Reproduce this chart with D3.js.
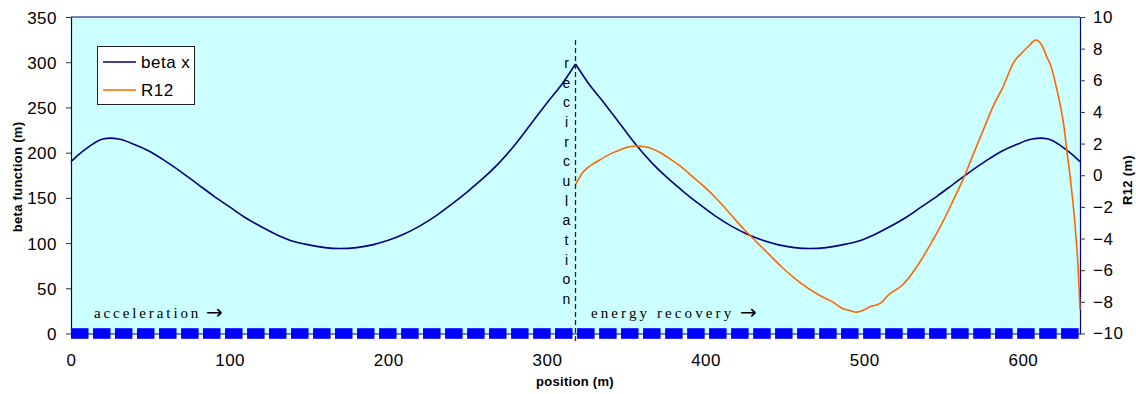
<!DOCTYPE html>
<html>
<head>
<meta charset="utf-8">
<script src="https://cdn.jsdelivr.net/npm/d3@7"></script>
<style>
  body { margin: 0; background: #fff; }
  svg text { font-family: "Liberation Sans", Arial, sans-serif; fill: #000; }
  .tick text { font-size: 17px; letter-spacing: 0.5px; }
  .axisTitle { font-size: 13px; font-weight: bold; letter-spacing: 0.3px; }
  .note { font-family: "Liberation Serif", "Times New Roman", serif; font-size: 15px; }
  .arrow { font-family: "DejaVu Sans", sans-serif; font-size: 20px; }
</style>
</head>
<body>
<div id="chart"></div>
<script>

// beta x (m) along the machine, left axis
const betaPos = [0, 5, 10, 15, 20, 25, 30, 40, 50, 60, 70, 80, 90, 100, 110, 120, 130, 140, 150,
    160, 170, 180, 190, 200, 210, 220, 230, 240, 250, 260, 270, 280, 290, 300, 310, 318,
    326, 336, 346, 356, 366, 376, 386, 396, 406, 416, 426, 436, 446, 456, 466, 476, 486,
    496, 506, 516, 526, 536, 546, 556, 566, 576, 586, 596, 606, 611, 616, 621, 626, 631, 636];
const betaX = [190, 198, 205, 211, 215, 216, 215, 209, 201, 190, 178, 165, 152, 140, 128, 118, 109, 102, 98,
    95, 94, 95, 98, 103, 110, 119, 130, 143, 157, 172, 189, 209, 232, 255, 277, 298,
    277, 255, 232, 209, 189, 172, 157, 143, 130, 119, 110, 103, 98, 95, 94, 95, 98,
    102, 109, 118, 128, 140, 152, 165, 178, 190, 201, 209, 215, 216, 215, 211, 205, 198, 190];

// R12 (m) after recirculation, right axis
const r12Pos = [318, 322, 326, 333, 340, 346, 352, 358, 364, 371, 378, 385, 392, 400, 408, 416, 424,
    432, 440, 448, 456, 464, 472, 480, 486, 491, 495, 500, 504, 510, 516, 524, 533, 541, 550,
    556, 563, 569, 575, 581, 588, 594, 600, 604, 608, 612, 615, 618, 621, 624, 626, 628, 630,
    633, 635, 636];
const r12 = [-0.6, 0.1, 0.5, 0.95, 1.35, 1.6, 1.8, 1.85, 1.75, 1.45, 1.0, 0.5, -0.1, -0.8, -1.6, -2.5, -3.4,
    -4.2, -5.0, -5.8, -6.5, -7.1, -7.6, -8.0, -8.4, -8.55, -8.65, -8.5, -8.3, -8.1, -7.5, -6.95, -5.8, -4.5, -2.85,
    -1.6, -0.1, 1.4, 2.85, 4.3, 5.7, 7.1, 7.8, 8.2, 8.55, 8.2, 7.5, 6.8, 5.6, 4.2, 3.0, 1.3, -0.3,
    -3.3, -6.2, -8.5];

// magnet markers sitting on the axis
const magnetPos = [5.5, 19.4, 33.2, 47.1, 61.0, 74.9, 88.7, 102.6, 116.5, 130.3, 144.2, 158.1, 171.9,
    185.8, 199.7, 213.6, 227.4, 241.3, 255.2, 269.0, 282.9, 296.8, 310.6, 324.5, 338.4, 352.2,
    366.1, 380.0, 393.9, 407.7, 421.6, 435.5, 449.3, 463.2, 477.1, 490.9, 504.8, 518.7, 532.6,
    546.4, 560.3, 574.2, 588.0, 601.9, 615.8, 629.6];

const recircPos = 318;
const xTicks = [0, 100, 200, 300, 400, 500, 600];
const yLeftTicks = [0, 50, 100, 150, 200, 250, 300, 350];
const yRightTicks = [-10, -8, -6, -4, -2, 0, 2, 4, 6, 8, 10];
const seriesNames = ["beta x", "R12"];
const seriesColors = ["#000080", "#ff6600"];

/***** SETUP *****/
const width = 1136;
const height = 394;
const margin = {top: 17, left: 71, right: 56, bottom: 60.5};
const plotWidth = width - margin.left - margin.right;
const plotHeight = height - margin.top - margin.bottom;

const svg = d3.select("#chart")
    .append("svg")
    .attr("width", width)
    .attr("height", height);

const xScale = d3.scaleLinear().domain([0, 636]).range([margin.left, margin.left + plotWidth]);
const yLeft = d3.scaleLinear().domain([0, 350]).range([margin.top + plotHeight, margin.top]);
const yRight = d3.scaleLinear().domain([-10, 10]).range([margin.top + plotHeight, margin.top]);

// plot background
svg.append("rect")
    .attr("x", margin.left)
    .attr("y", margin.top)
    .attr("width", plotWidth)
    .attr("height", plotHeight)
    .attr("fill", "#ccffff");

svg.append("line")
    .attr("x1", margin.left).attr("x2", margin.left + plotWidth)
    .attr("y1", margin.top).attr("y2", margin.top)
    .attr("stroke", "#000080");

/***** AXES *****/
const styleAxis = g => {
    g.select(".domain").attr("stroke", "#000080").attr("stroke-width", 1.2);
    g.selectAll(".tick line").attr("stroke", "#333");
    g.selectAll(".tick text").attr("fill", "#000");
};

svg.append("g")
    .attr("transform", `translate(${margin.left},0)`)
    .call(d3.axisLeft(yLeft).tickValues(yLeftTicks).tickSize(5).tickPadding(9).tickSizeOuter(0))
    .call(styleAxis)
    .selectAll(".tick text").attr("dy", "0.36em");

svg.append("g")
    .attr("transform", `translate(${margin.left + plotWidth},0)`)
    .call(d3.axisRight(yRight).tickValues(yRightTicks).tickSize(5).tickPadding(8).tickSizeOuter(0))
    .call(styleAxis);

svg.append("g")
    .attr("transform", `translate(0,${margin.top + plotHeight})`)
    .call(d3.axisBottom(xScale).tickValues(xTicks).tickSize(0).tickPadding(20).tickSizeOuter(0))
    .call(styleAxis);

// axis titles
svg.append("text")
    .attr("class", "axisTitle")
    .attr("text-anchor", "middle")
    .attr("transform", `translate(22,177) rotate(-90)`)
    .text("beta function (m)");

svg.append("text")
    .attr("class", "axisTitle")
    .attr("text-anchor", "middle")
    .attr("transform", `translate(1132,180) rotate(-90)`)
    .text("R12 (m)");

svg.append("text")
    .attr("class", "axisTitle")
    .attr("text-anchor", "middle")
    .attr("x", 575)
    .attr("y", 386)
    .text("position (m)");

/***** LINES *****/
const betaData = betaPos.map((p, i) => ({x: p, y: betaX[i]}));
const r12Data = r12Pos.map((p, i) => ({x: p, y: r12[i]}));

const betaLine = d3.line().x(d => xScale(d.x)).y(d => yLeft(d.y)).curve(d3.curveMonotoneX);
const r12Line = d3.line().x(d => xScale(d.x)).y(d => yRight(d.y)).curve(d3.curveMonotoneX);

// split at the recirculation point so the peak stays sharp
[betaData.filter(d => d.x <= recircPos), betaData.filter(d => d.x >= recircPos)].forEach(part => {
    svg.append("path")
        .datum(part)
        .attr("fill", "none")
        .attr("stroke", seriesColors[0])
        .attr("stroke-width", 1.6)
        .attr("d", betaLine);
});

svg.append("path")
    .datum(r12Data)
    .attr("fill", "none")
    .attr("stroke", seriesColors[1])
    .attr("stroke-width", 1.6)
    .attr("d", r12Line);

// magnets
svg.selectAll(".magnet")
    .data(magnetPos)
    .enter()
    .append("rect")
    .attr("class", "magnet")
    .attr("x", d => xScale(d) - 8.75)
    .attr("y", yLeft(0) - 5.3)
    .attr("width", 17.5)
    .attr("height", 10.6)
    .attr("fill", "#0000ff");

/***** RECIRCULATION MARK *****/
svg.append("line")
    .attr("x1", xScale(recircPos)).attr("x2", xScale(recircPos))
    .attr("y1", 40).attr("y2", 344)
    .attr("stroke", "#222")
    .attr("stroke-width", 1.3)
    .attr("stroke-dasharray", "5,3");

svg.selectAll(".recircLetter")
    .data("recirculation".split(""))
    .enter()
    .append("text")
    .attr("class", "recircLetter")
    .attr("text-anchor", "middle")
    .attr("font-size", 14)
    .attr("x", xScale(recircPos) - 9)
    .attr("y", (d, i) => 68 + i * 19.67)
    .text(d => d);

const notes = [
    {label: "acceleration", x: 94, arrowX: 206, spacing: 2.9},
    {label: "energy recovery", x: 591, arrowX: 740, spacing: 3.1}
];

notes.forEach(n => {
    svg.append("text")
        .attr("class", "note")
        .attr("x", n.x)
        .attr("y", 318)
        .attr("letter-spacing", n.spacing)
        .text(n.label);
    svg.append("text")
        .attr("class", "arrow")
        .attr("x", n.arrowX)
        .attr("y", 319)
        .text("→");
});

/***** LEGEND *****/
const legend = svg.append("g").attr("id", "legend");

legend.append("rect")
    .attr("x", 97.5).attr("y", 46.5)
    .attr("width", 97).attr("height", 58)
    .attr("fill", "#fff")
    .attr("stroke", "#222");

seriesNames.forEach((name, i) => {
    legend.append("line")
        .attr("x1", 103).attr("x2", 136)
        .attr("y1", 62 + i * 28).attr("y2", 62 + i * 28)
        .attr("stroke", seriesColors[i])
        .attr("stroke-width", 1.6);
    legend.append("text")
        .attr("x", 141)
        .attr("y", 68 + i * 28)
        .attr("font-size", 17)
        .attr("letter-spacing", 0.5)
        .text(name);
});

</script>
</body>
</html>
